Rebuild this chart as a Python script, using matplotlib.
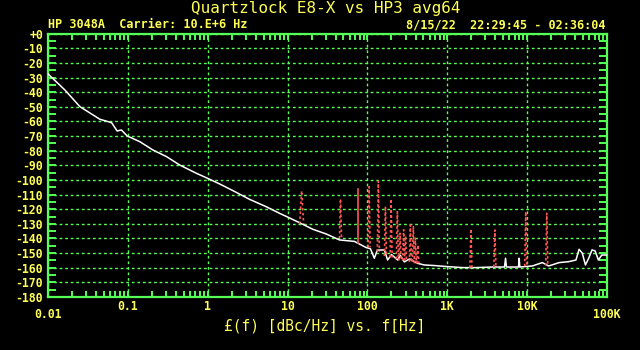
import matplotlib
matplotlib.use("Agg")
import matplotlib.pyplot as plt
from matplotlib.ticker import FixedLocator, LogLocator, MultipleLocator, NullFormatter

# ---- screen palette (HP 3048A style plot) ----------------------------------
BG = "#000000"; YEL = "#FFFF55"; GRN = "#55FF55"; RED = "#FF5555"; WHT = "#FFFFFF"
MONO = "DejaVu Sans Mono"

# ---- white trace: L(f) with spurs removed ----------------------------------
noise_f = [0.01, 0.0163, 0.0251, 0.0447, 0.0625, 0.0734, 0.083, 0.098, 0.141,
           0.206, 0.304, 0.447, 0.72, 1.0, 1.41, 2.07, 3.33, 5.37, 7.94, 9.8,
           14.1, 20.7, 30.4, 44.7, 68.8, 83.4, 96.4, 109, 122, 133, 163, 179,
           200, 239, 258, 290, 335, 387, 425, 516, 688, 991, 1560, 2300, 3650,
           5200, 5370, 5500, 7800, 7940, 8100, 11600, 15500, 18600, 25100,
           33500, 40900, 44700, 49000, 53700, 59000, 65000, 71000, 78000,
           86000, 100000]
noise_db = [-27.5, -38.5, -49.9, -58.5, -60.8, -66.5, -65.8, -69.9, -73.8,
            -79.5, -84.0, -89.8, -95.4, -98.9, -102.7, -107.3, -113.2, -118.2,
            -122.8, -125.1, -129.2, -133.7, -136.9, -141.0, -142.0, -144.4,
            -146.2, -147.0, -153.5, -148.0, -147.8, -154.7, -151.0, -154.7,
            -151.5, -156.0, -154.0, -155.8, -157.0, -158.1, -158.5, -159.2,
            -159.9, -159.9, -159.5, -159.5, -153.5, -159.5, -159.5, -153.5,
            -159.5, -158.8, -156.5, -158.8, -156.5, -155.8, -154.7, -147.4,
            -150.0, -158.1, -153.5, -147.8, -148.5, -154.7, -151.3, -151.3]

# ---- red spur traces: centre frequency, peak level, floor under it ---------
spur_f = [15.0, 46, 75.7, 105, 137, 168, 198, 237, 256, 284, 300, 345, 376,
          398, 428, 1977, 3946, 9600, 17600]
spur_peak = [-107.5, -113, -106, -104.6, -100.8, -118, -113, -121.7, -136.4,
             -134, -138.3, -130.8, -132, -139.8, -144.4, -133.5, -134.2,
             -121.7, -122.8]
spur_base = [-130, -140, -143, -146, -149, -152, -153, -154, -155, -155,
             -155, -156, -156, -157, -157, -160, -159.5, -159, -158.5]

xtick_vals = [0.01, 0.1, 1, 10, 100, 1e3, 1e4, 1e5]
xtick_labels = ["0.01", "0.1", "1", "10", "100", "1K", "10K", "100K"]
ytick_vals = list(range(0, -190, -10))
ytick_labels = ["+0"] + [str(v) for v in ytick_vals[1:]]

W, H = 640, 350
fig = plt.figure(figsize=(W / 100, H / 100), dpi=100, facecolor=BG)
ax = fig.add_axes([48 / W, 1 - 297 / H, (607 - 48) / W, (297 - 33.7) / H])
ax.set_facecolor(BG)

ax.plot(noise_f, noise_db, color=WHT, lw=1.1, zorder=4)
for f, pk, bs in zip(spur_f, spur_peak, spur_base):
    w = 1.06 if f < 20 else 1.03
    # the ~75 Hz line is a single-bin spur, drawn solid on the screen
    ls = "-" if 70 < f < 80 else (0, (1.5, 1.5))
    if ls == "-":
        ax.plot([f, f], [bs, pk], color=RED, lw=1.2, zorder=5)
    else:
        ax.plot([f / w, f, f * w], [bs, pk, bs], color=RED, lw=1.2, ls=ls,
                zorder=5)

ax.set_xscale("log")
ax.set_xlim(0.01, 1e5)
ax.set_ylim(-180, 0)

for s in ax.spines.values():
    s.set_color(GRN)
    s.set_linewidth(1.6)

ax.grid(True, which="major", color=GRN, lw=1.0, ls=(0, (2, 2)))
ax.set_axisbelow(True)

ax.xaxis.set_major_locator(FixedLocator(xtick_vals))
ax.xaxis.set_minor_locator(LogLocator(base=10, subs=range(2, 10), numticks=20))
ax.xaxis.set_major_formatter(NullFormatter())
ax.xaxis.set_minor_formatter(NullFormatter())
ax.set_yticks(ytick_vals, ytick_labels)
ax.yaxis.set_minor_locator(MultipleLocator(5))

ax.tick_params(axis="both", which="both", direction="in", colors=GRN,
               top=True, right=True, width=1.4)
ax.tick_params(axis="x", which="both", length=4.5)
ax.tick_params(axis="y", which="both", length=5.5, pad=3.6, labelcolor=YEL,
               labelsize=8.3)
for lab in ax.get_yticklabels():
    lab.set_fontfamily(MONO)
    lab.set_fontweight("bold")

# x labels: the two end labels sit one line lower on the HP screen
for v, t in zip(xtick_vals, xtick_labels):
    dy = -17 if t in ("0.01", "100K") else -9
    ax.annotate(t, (v, 0), xycoords=("data", "axes fraction"),
                xytext=(0, dy), textcoords="offset pixels", ha="center",
                va="center", color=YEL, fontsize=8.3, family=MONO,
                weight="bold")

fig.text(326 / W, 1 - 8 / H, "Quartzlock E8-X vs HP3 avg64", ha="center",
         va="center", color=YEL, fontsize=11.5, family=MONO)
fig.text(48 / W, 1 - 24.5 / H, "HP 3048A  Carrier: 10.E+6 Hz", ha="left",
         va="center", color=YEL, fontsize=8.5, family=MONO, weight="bold")
fig.text(606 / W, 1 - 24.5 / H, "8/15/22  22:29:45 - 02:36:04", ha="right",
         va="center", color=YEL, fontsize=8.5, family=MONO, weight="bold")
fig.text(325 / W, 1 - 326 / H, "£(f) [dBc/Hz] vs. f[Hz]", ha="center",
         va="center", color=YEL, fontsize=10.5, family=MONO)

fig.savefig("out.png", dpi=100, facecolor=BG)
